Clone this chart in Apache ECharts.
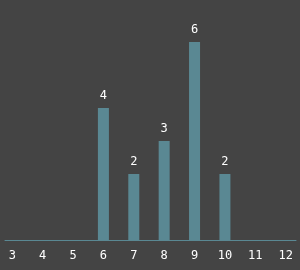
<!DOCTYPE html>
<html><head><meta charset="utf-8">
<script src="https://cdn.jsdelivr.net/npm/echarts@6/dist/echarts.min.js"></script>
<style>html,body{margin:0;padding:0;background:#444444;}#c{width:300px;height:270px;}</style>
</head><body><div id="c"></div>
<script>
const xValues = [6, 7, 8, 9, 10];
const counts = [4, 2, 3, 6, 2];
const xTicks = [3, 4, 5, 6, 7, 8, 9, 10, 11, 12];

const chart = echarts.init(document.getElementById('c'), null, {renderer: 'canvas'});
chart.setOption({
  backgroundColor: '#444444',
  animation: false,
  grid: {left: 5, right: 4, top: 42, bottom: 30, containLabel: false},
  xAxis: {
    type: 'value', min: 2.76, max: 12.34, splitNumber: 10,
    axisLine: {show: true, lineStyle: {color: '#5a8893', width: 1}},
    axisTick: {show: false}, splitLine: {show: false},
    axisLabel: {
      color: '#ffffff', fontFamily: 'DejaVu Sans Mono', fontSize: 12, margin: 10,
      showMinLabel: false, showMaxLabel: false,
      formatter: v => xTicks.includes(v) ? String(v) : ''
    }
  },
  yAxis: {type: 'value', min: 0, max: 6, show: false},
  series: [{
    type: 'bar', barWidth: 11,
    data: xValues.map((x, i) => [x, counts[i]]),
    itemStyle: {color: '#5a8893'},
    label: {show: true, position: 'top', distance: 6, color: '#ffffff', fontFamily: 'DejaVu Sans Mono', fontSize: 12}
  }]
});
</script></body></html>
